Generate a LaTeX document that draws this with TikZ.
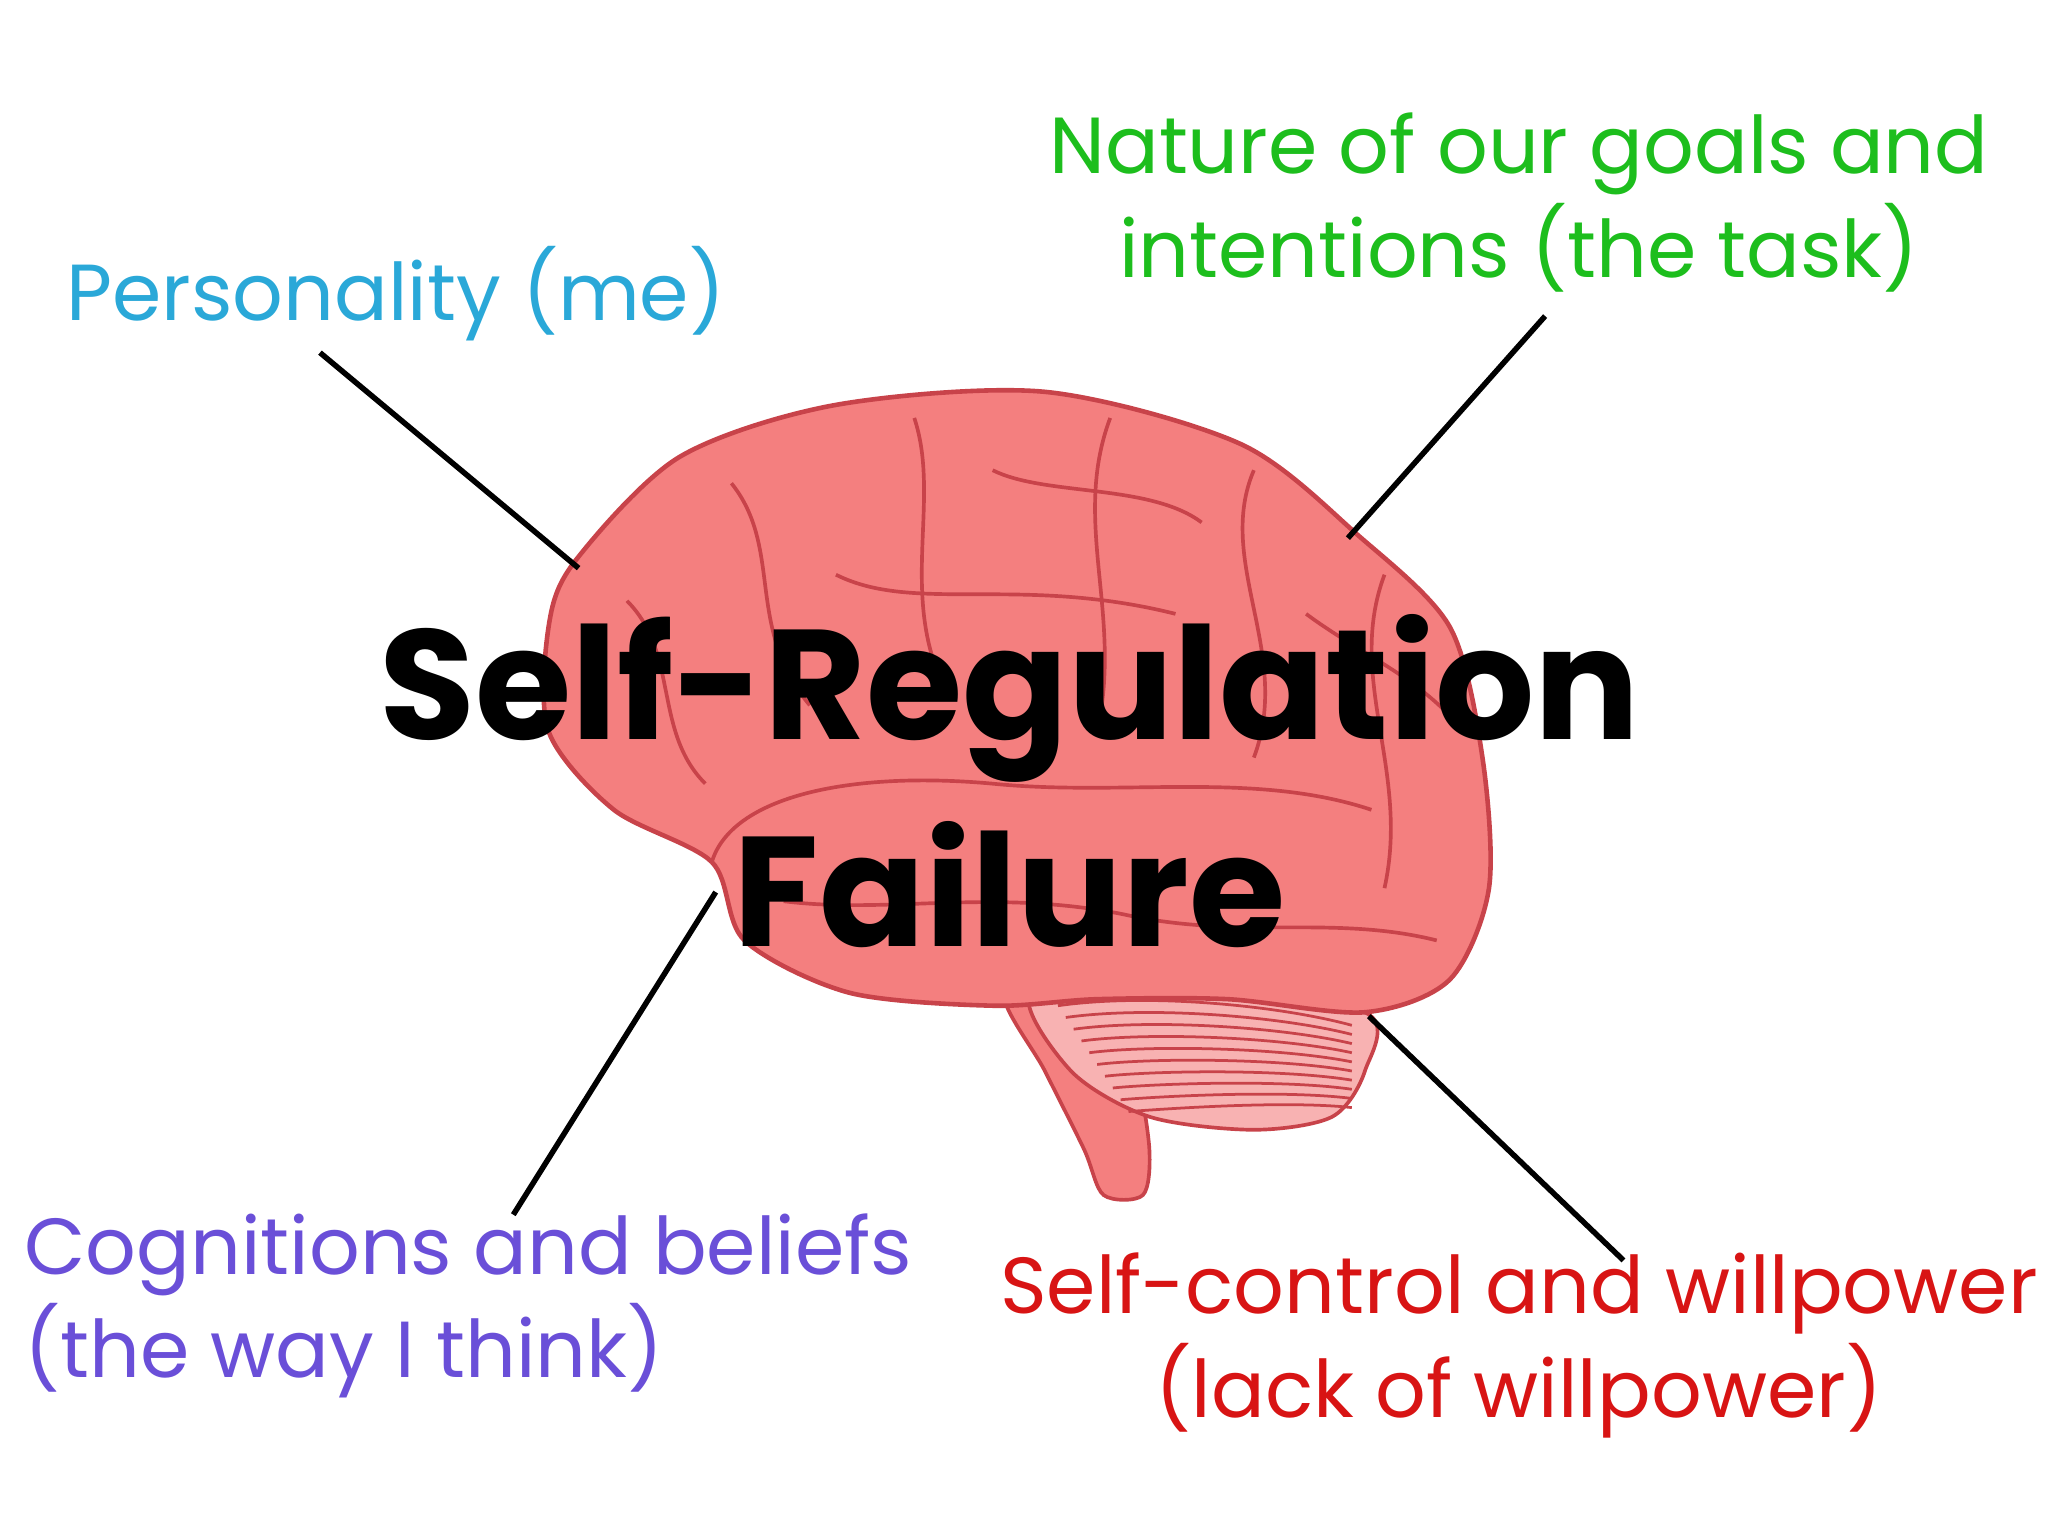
\documentclass[tikz,border=0pt]{standalone}
\usepackage{fontspec}
\setmainfont{Poppins}
\begin{document}
\begin{tikzpicture}[x=0.01cm,y=-0.01cm,
  lbl/.style={font=\fontsize{17.3}{22.5}\selectfont,align=center,inner sep=0},
  conn/.style={line width=1.2pt,black},
  gyr/.style={draw=brainline,line width=0.8pt}]
\definecolor{brain}{HTML}{F47F7F}
\definecolor{brainline}{HTML}{C8434A}
\definecolor{cpers}{HTML}{2AA8D8}
\definecolor{cnat}{HTML}{1DBE1D}
\definecolor{ccog}{HTML}{6A4FD8}
\definecolor{cself}{HTML}{D81414}
\useasboundingbox (0,0) rectangle (1568,1176);
% brain stem
\fill[brain,draw=brainline,line width=0.8pt] plot[smooth cycle] coordinates {(770,760)(800,820)(830,880)(845,915)(875,915)(880,880)(870,820)(850,770)};
% cerebellum
\fill[brain!60!white,draw=brainline,line width=0.8pt] plot[smooth cycle] coordinates {(790,760)(900,755)(1045,775)(1045,820)(1020,855)(960,865)(880,855)(820,820)};
\foreach \i in {0,...,9}{\draw[brainline,line width=0.6pt] (810+\i*6,770+\i*9) .. controls (880,760+\i*10) and (980,770+\i*8) .. (1035,785+\i*7);}
% cerebrum
\fill[brain,draw=brainline,line width=1pt] plot[smooth cycle] coordinates {(440,430)(520,350)(640,310)(800,300)(950,340)(1040,410)(1110,480)(1135,580)(1140,680)(1110,750)(1045,775)(940,765)(840,765)(760,770)(650,760)(570,720)(545,660)(470,620)(420,560)(420,480)};
% gyri
\draw[gyr] (545,660) .. controls (560,610) and (650,590) .. (760,600) .. controls (860,610) and (960,590) .. (1050,620);
\draw[gyr] (700,320) .. controls (720,380) and (690,450) .. (720,520);
\draw[gyr] (850,320) .. controls (820,400) and (860,470) .. (840,560);
\draw[gyr] (560,370) .. controls (600,420) and (570,480) .. (620,540);
\draw[gyr] (960,360) .. controls (930,430) and (990,500) .. (960,580);
\draw[gyr] (1060,440) .. controls (1030,520) and (1080,590) .. (1060,680);
\draw[gyr] (480,460) .. controls (520,500) and (500,560) .. (540,600);
\draw[gyr] (600,690) .. controls (680,700) and (760,680) .. (860,700) .. controls (950,720) and (1020,700) .. (1100,720);
\draw[gyr] (640,440) .. controls (700,470) and (780,440) .. (900,470);
\draw[gyr] (760,360) .. controls (800,380) and (880,370) .. (920,400);
\draw[gyr] (1000,470) .. controls (1040,500) and (1090,520) .. (1120,560);
% title
\node[inner sep=0,align=center,font=\fontsize{34}{45}\selectfont\bfseries] (t) at (773,598) {Self-Regulation\\Failure};
% labels
\node[lbl,text=cpers,anchor=west] (p) at (50,225) {Personality (me)};
\node[lbl,text=cnat] (n) at (1163,155) {Nature of our goals and\\intentions (the task)};
\node[lbl,text=ccog,anchor=west,align=left] (c) at (18,1000) {Cognitions and beliefs\\(the way I think)};
\node[lbl,text=cself] (s) at (1163,1030) {Self-control and willpower\\(lack of willpower)};
% connectors
\coordinate (p1) at (245,270); \coordinate (p2) at (443,435);
\coordinate (n1) at (1183,242); \coordinate (n2) at (1032,412);
\coordinate (c1) at (548,683); \coordinate (c2) at (393,930);
\coordinate (s1) at (1048,778); \coordinate (s2) at (1243,965);
\draw[conn] (p1) -- (p2);
\draw[conn] (n1) -- (n2);
\draw[conn] (c1) -- (c2);
\draw[conn] (s1) -- (s2);
\end{tikzpicture}
\end{document}
